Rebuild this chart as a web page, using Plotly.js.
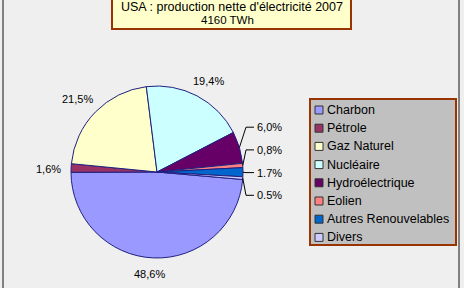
<!DOCTYPE html>
<html>
<head>
<meta charset="utf-8">
<script src="https://cdn.plot.ly/plotly-3.0.1.min.js"></script>
<style>html,body{margin:0;padding:0;background:#efefef;}#chart{width:464px;height:288px;}</style>
</head>
<body>
<div id="chart"></div>
<script>
const categories = ['Charbon','Pétrole','Gaz Naturel','Nucléaire','Hydroélectrique','Eolien','Autres Renouvelables','Divers'];
const values = [48.6, 1.6, 21.5, 19.4, 6.0, 0.8, 1.7, 0.5];
const valueLabels = ['48,6%','1,6%','21,5%','19,4%','6,0%','0,8%','1.7%','0.5%'];
const colors = ['#9999FF','#993366','#FFFFCC','#CCFFFF','#660066','#FF8080','#0066CC','#CCCCFF'];
const titleLine1 = "USA : production nette d'électricité 2007";
const titleLine2 = '4160 TWh';

const W = 464, H = 288;
const font = 'Liberation Sans, Arial, sans-serif';
const px = x => x / W;
const py = y => 1 - y / H;

// pie geometry (pixels)
const cx = 157, cy = 172, R = 86;
const rotation = 95;

const trace = {
  type: 'pie',
  labels: categories,
  values: values,
  text: valueLabels,
  textinfo: 'none',
  hoverinfo: 'label+text',
  sort: false,
  direction: 'clockwise',
  rotation: rotation,
  marker: {colors: colors, line: {color: '#202080', width: 1}},
  domain: {x: [px(cx - R), px(cx + R)], y: [py(cy + R), py(cy - R)]},
  showlegend: false
};

const annotations = [];
const shapes = [];

// value labels placed from each slice's mid-angle
const total = values.reduce((a, b) => a + b, 0);
let acc = rotation;
const slices = values.map((v, i) => {
  const span = v / total * 360;
  const mid = (acc + span / 2) * Math.PI / 180;
  acc += span;
  return {i, v, dx: Math.sin(mid), dy: -Math.cos(mid)};
});
const isLeader = s => s.dx > 0.3 && s.v < 7;
const leader = slices.filter(isLeader);
const plain = slices.filter(s => !isLeader(s));
plain.forEach(s => {
  const d = R + 7 + 15 * Math.abs(s.dx) + 6 * Math.abs(s.dy);
  annotations.push({xref: 'paper', yref: 'paper', x: px(cx + d * s.dx + 3 * Math.abs(s.dy) * Math.sign(s.dx)), y: py(cy + d * s.dy + 2),
    xanchor: 'center', yanchor: 'middle', showarrow: false, text: valueLabels[s.i],
    font: {family: font, size: 11, color: '#000000'}});
});
const gap = 22.7;
const natural = leader.map(s => cy + (R + 8) * s.dy);
const meanY = natural.reduce((a, b) => a + b, 0) / natural.length - 4;
leader.forEach((s, k) => {
  const ty = meanY + (k - (leader.length - 1) / 2) * gap;
  const ex = cx + R * s.dx, ey = cy + R * s.dy;
  const tx = cx + R + 12;
  shapes.push({type: 'path', xref: 'paper', yref: 'paper', layer: 'above',
    path: `M${px(ex)},${py(ey)} L${px(cx + R + 3)},${py(ty)} L${px(tx - 1)},${py(ty)}`,
    line: {color: '#000000', width: 1}});
  annotations.push({xref: 'paper', yref: 'paper', x: px(tx), y: py(ty),
    xanchor: 'left', yanchor: 'middle', showarrow: false, text: valueLabels[s.i],
    font: {family: font, size: 11, color: '#000000'}});
});

// title box
shapes.push({type: 'rect', xref: 'paper', yref: 'paper', layer: 'below',
  x0: px(112), x1: px(351), y0: py(-10), y1: py(29),
  fillcolor: '#FFFFCC', line: {color: '#993300', width: 2}});
annotations.push({xref: 'paper', yref: 'paper', x: px(232), y: py(7), xanchor: 'center', yanchor: 'middle',
  showarrow: false, text: titleLine1, font: {family: font, size: 12.5, color: '#000000'}});
annotations.push({xref: 'paper', yref: 'paper', x: px(227), y: py(20), xanchor: 'center', yanchor: 'middle',
  showarrow: false, text: titleLine2, font: {family: font, size: 11.5, color: '#000000'}});

// legend box
const lgX0 = 310, lgX1 = 456, lgY0 = 99, lgY1 = 245, row0 = 110, rowH = 18.2;
shapes.push({type: 'rect', xref: 'paper', yref: 'paper', layer: 'below',
  x0: px(lgX0), x1: px(lgX1), y0: py(lgY1), y1: py(lgY0),
  fillcolor: '#C0C0C0', line: {color: '#993300', width: 2}});
categories.forEach((c, i) => {
  const yc = row0 + i * rowH;
  shapes.push({type: 'rect', xref: 'paper', yref: 'paper', layer: 'above',
    x0: px(315), x1: px(323), y0: py(yc + 4), y1: py(yc - 4),
    fillcolor: colors[i], line: {color: '#333333', width: 1}});
  annotations.push({xref: 'paper', yref: 'paper', x: px(325), y: py(yc), xanchor: 'left', yanchor: 'middle',
    showarrow: false, text: c, font: {family: font, size: 12.5, color: '#000000'}});
});

// frame lines
shapes.push({type: 'line', xref: 'paper', yref: 'paper', x0: px(3), x1: px(3), y0: 0, y1: 1, line: {color: '#808080', width: 2}});
shapes.push({type: 'line', xref: 'paper', yref: 'paper', x0: px(459), x1: px(459), y0: 0, y1: 1, line: {color: '#808080', width: 2}});

const layout = {
  width: W, height: H,
  margin: {l: 0, r: 0, t: 0, b: 0},
  paper_bgcolor: '#efefef',
  plot_bgcolor: '#efefef',
  font: {family: font, size: 12, color: '#000000'},
  showlegend: false,
  annotations: annotations,
  shapes: shapes
};
Plotly.newPlot('chart', [trace], layout, {displayModeBar: false, staticPlot: true});
</script>
</body>
</html>
